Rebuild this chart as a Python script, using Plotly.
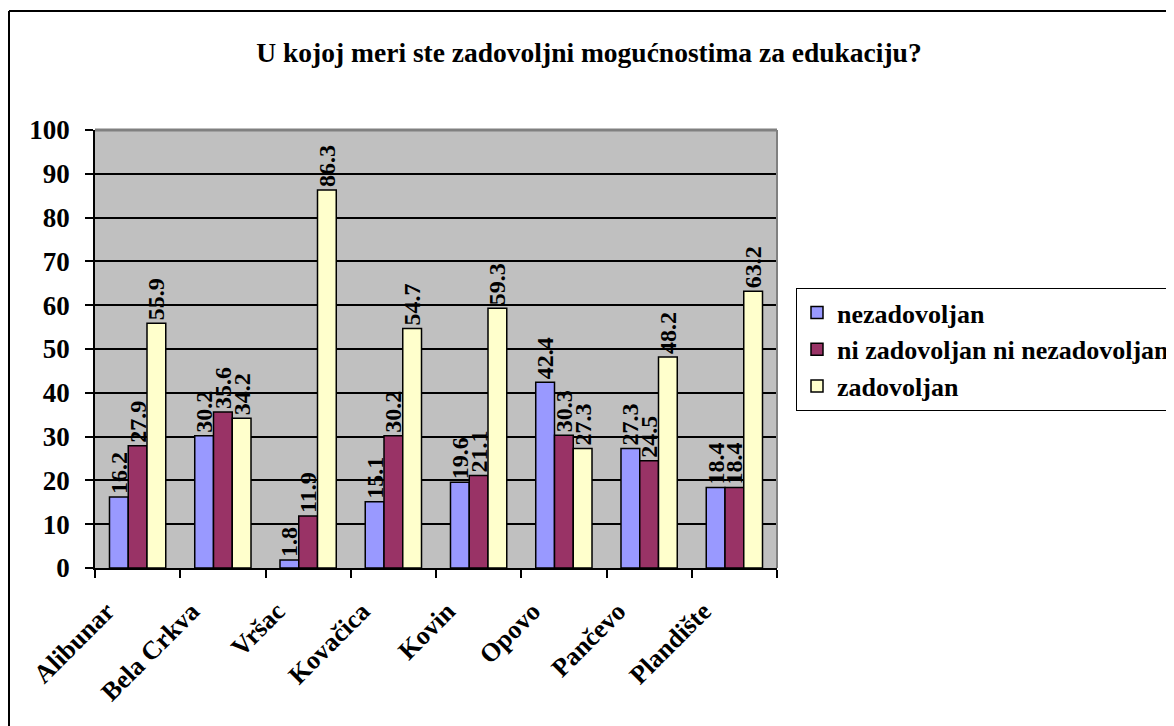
import plotly.graph_objects as go

categories = ["Alibunar", "Bela Crkva", "Vršac", "Kovačica", "Kovin", "Opovo", "Pančevo", "Plandište"]
nezadovoljan = [16.2, 30.2, 1.8, 15.1, 19.6, 42.4, 27.3, 18.4]
ni_ni = [27.9, 35.6, 11.9, 30.2, 21.1, 30.3, 24.5, 18.4]
zadovoljan = [55.9, 34.2, 86.3, 54.7, 59.3, 27.3, 48.2, 63.2]
series_names = ["nezadovoljan", "ni zadovoljan ni nezadovoljan", "zadovoljan"]
title_text = "U kojoj meri ste zadovoljni mogućnostima za edukaciju?"
y_ticks = [0, 10, 20, 30, 40, 50, 60, 70, 80, 90, 100]

FONT = "Liberation Serif"
colors = ["#9999FF", "#993366", "#FFFFCC"]

OFF = 8  # page body margin
W, H = 1174 - OFF, 726 - OFF
# reference pixel positions (page coords) converted to figure coords
L, R, T, B = 95 - OFF, 777 - OFF, 130 - OFF, 568 - OFF

fig = go.Figure()
for name, vals, col in zip(series_names, [nezadovoljan, ni_ni, zadovoljan], colors):
    fig.add_trace(go.Bar(
        x=categories, y=vals, name=name,
        marker=dict(color=col, line=dict(color="black", width=1.5)),
        text=[f"{v:.1f}" for v in vals],
        textposition="outside", textangle=-90, constraintext="none",
        cliponaxis=False,
        textfont=dict(family=FONT, size=24, color="black", weight="bold"),
    ))

def px_x(p):
    return (p - OFF - L) / (R - L)

def px_y(p):
    return (B - (p - OFF)) / (B - T)

fig.update_layout(
    width=W, height=H,
    margin=dict(l=L, r=W - R, t=T, b=H - B, autoexpand=False),
    paper_bgcolor="white", plot_bgcolor="#C0C0C0",
    barmode="group", bargap=0.34, bargroupgap=0,
    font=dict(family=FONT, color="black"),
    title=dict(text=title_text, x=(589 - OFF) / W, xref="container", xanchor="center",
               y=1 - (52 - OFF) / H, yref="container", yanchor="middle",
               font=dict(family=FONT, size=27.5, color="black", weight="bold")),
    legend=dict(x=px_x(796), y=px_y(288), xanchor="left", yanchor="top",
                bgcolor="white", bordercolor="black", borderwidth=1,
                font=dict(family=FONT, size=26, color="black", weight="bold"),
                tracegroupgap=0),
    showlegend=True,
)
fig.update_yaxes(range=[0, 100], tickvals=y_ticks, showgrid=True, gridcolor="black", gridwidth=1.5,
                 showline=True, linecolor="black", linewidth=1.5, ticks="outside", ticklen=8,
                 tickcolor="black", tickwidth=1.5, zeroline=False, ticklabelstandoff=10,
                 tickfont=dict(family=FONT, size=27, color="black", weight="bold"))
fig.update_xaxes(showgrid=False, showline=True, linecolor="black", linewidth=1.5,
                 ticks="outside", ticklen=8, tickson="boundaries", tickcolor="black", tickwidth=1.5,
                 tickangle=-45, ticklabelstandoff=16, ticklabelshift=-31,
                 tickfont=dict(family=FONT, size=26, color="black", weight="bold"))

# plot-area gray border (top/right)
fig.add_shape(type="line", xref="paper", yref="paper", x0=0, x1=1, y0=1, y1=1,
              line=dict(color="#808080", width=3), layer="above")
fig.add_shape(type="line", xref="paper", yref="paper", x0=1, x1=1, y0=0, y1=1,
              line=dict(color="#808080", width=2), layer="above")
# outer chart border (left/top visible)
bx = (1 - L) / (R - L)
fig.add_shape(type="line", xref="paper", yref="paper", x0=bx, x1=bx, y0=px_y(760), y1=px_y(11),
              line=dict(color="black", width=2), layer="above")
fig.add_shape(type="line", xref="paper", yref="paper", x0=bx, x1=px_x(1200), y0=px_y(11), y1=px_y(11),
              line=dict(color="black", width=2), layer="above")

fig.write_html("out.html")
